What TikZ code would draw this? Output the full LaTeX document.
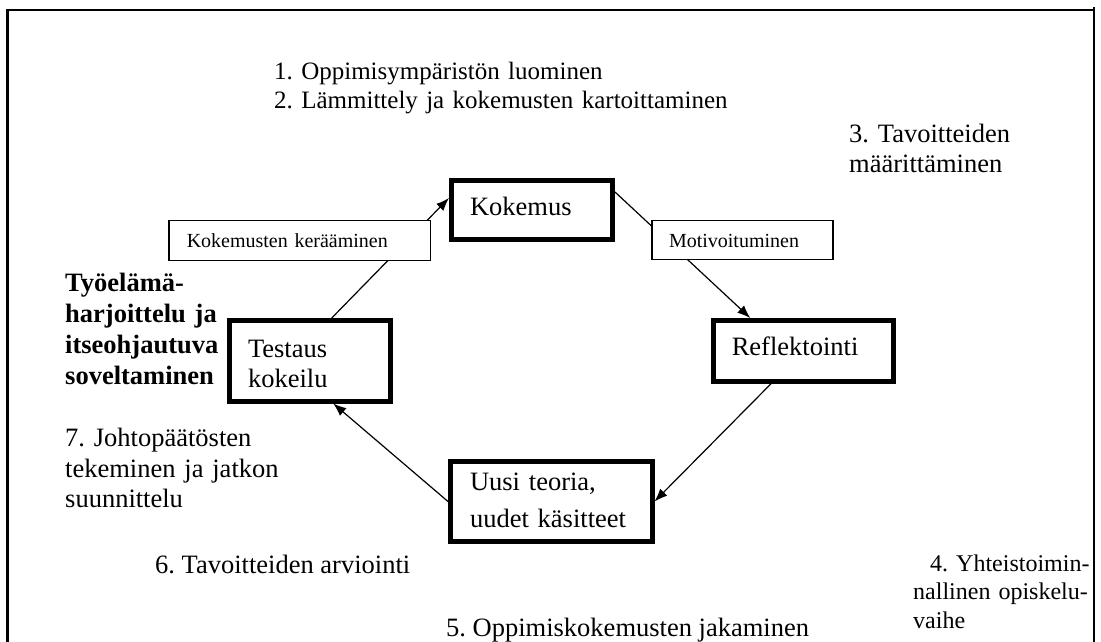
\documentclass[tikz,border=0pt]{standalone}
\usepackage{fontspec}
\setmainfont{Liberation Serif}
\usetikzlibrary{arrows.meta}
\frenchspacing
\begin{document}
\begin{tikzpicture}[x=1pt,y=-1pt,
  phase/.style={draw, line width=5pt, fill=white, inner ysep=0pt, align=left,
    font=\fontsize{26.5}{30}\selectfont},
  tag/.style={draw, line width=1.2pt, fill=white, inner ysep=0pt, align=left,
    font=\fontsize{20}{24}\selectfont},
  flow/.style={line width=1.2pt, -{Latex[length=13pt,width=10pt]}},
  note/.style={anchor=base west, inner sep=0pt, align=left,
    font=\fontsize{26.5}{30.5}\selectfont},
]
\useasboundingbox (0,0) rectangle (1101,642);

% frame, open at the bottom
\draw[line width=2.2pt] (7.5,642) -- (7.5,10) -- (1094,10);
\draw[line width=2.2pt] (1094,7) -- (1094,642);

% the four phases of the cycle
\node[phase, minimum width=161, minimum height=59, inner xsep=18.5pt,
      text width=124pt, text height=18pt, text depth=6.6pt]
      (k) at (532,210) {Kokemus};
\node[phase, minimum width=180.5, minimum height=60.5, inner xsep=18.7pt,
      text width=143pt, text height=18pt, text depth=9.5pt]
      (r) at (803.25,350.75) {Reflektointi};
\node[phase, minimum width=201.5, minimum height=80, inner xsep=19.5pt,
      text width=162.5pt, text height=14pt, text depth=37pt,
      font=\fontsize{26.5}{37}\selectfont]
      (u) at (551.25,501.5) {Uusi teoria,\\uudet käsitteet};
\node[phase, minimum width=160.5, minimum height=80.5, inner xsep=18.5pt,
      text width=123.5pt, text height=22.5pt, text depth=30pt]
      (t) at (309.75,360.75) {Testaus\\kokeilu};

% connectors around the cycle
\draw[flow] ([xshift=22pt]t.north) -- ([yshift=12pt]k.west);
\draw[flow] ([yshift=18pt]k.east) -- ([xshift=-53pt]r.north);
\draw[flow] ([xshift=-32pt]r.south) -- (u.east);
\draw[flow] (u.west) -- ([xshift=23.5pt]t.south);

% tags laid over the connectors
\node[tag, minimum width=261.5, minimum height=39.6, inner xsep=17.7pt,
      text width=226pt, text height=14.4pt, text depth=0pt]
      (kk) at (299.75,240.5) {Kokemusten kerääminen};
\node[tag, minimum width=181, minimum height=39, inner xsep=17pt,
      text width=147pt, text height=15.4pt, text depth=0pt]
      (mo) at (742.5,240) {Motivoituminen};

% numbered steps around the cycle
\node[note, text width=600pt, font=\fontsize{25}{29}\selectfont] (s1) at (274,80)
  {1. Oppimisympäristön luominen\\2. Lämmittely ja kokemusten kartoittaminen};
\node[note, text width=240pt] (s3) at (849,142) {3. Tavoitteiden\\määrittäminen};
\node[note, text width=200pt, font=\bfseries\fontsize{26.5}{31}\selectfont] (tp) at (65,291)
  {Työelämä-\\harjoittelu ja\\itseohjautuva\\soveltaminen};
\node[note, text width=300pt] (s7) at (65,446.5)
  {7. Johtopäätösten\\tekeminen ja jatkon\\suunnittelu};
\node[note] (s6) at (155,573) {6. Tavoitteiden arviointi};
\node[note, text width=220pt, font=\fontsize{24}{28.5}\selectfont] (s4) at (913,571)
  {\hspace*{17pt}4. Yhteistoimin-\\nallinen opiskelu-\\vaihe};
\node[note] (s5) at (446,636) {5. Oppimiskokemusten jakaminen};
\end{tikzpicture}
\end{document}
